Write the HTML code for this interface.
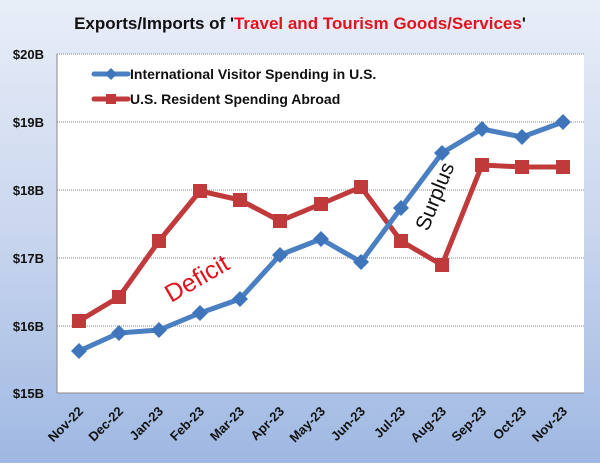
<!DOCTYPE html>
<html><head><style>
body{margin:0;width:600px;height:463px;overflow:hidden;font-family:"Liberation Sans",sans-serif;}
</style></head><body>
<svg width="600" height="463" xmlns="http://www.w3.org/2000/svg">
<defs>
<linearGradient id="bg" x1="0" y1="0" x2="0" y2="1">
<stop offset="0" stop-color="#e9eef8"/><stop offset="0.5" stop-color="#c9d6ee"/><stop offset="1" stop-color="#9fb8e2"/>
</linearGradient>
</defs>
<rect width="600" height="463" fill="url(#bg)"/>
<rect x="57" y="54" width="527" height="339" fill="#fff"/>
<g stroke="#888" stroke-width="1" stroke-dasharray="1,1">
<line x1="57" y1="54" x2="584" y2="54"/>
<line x1="57" y1="122" x2="584" y2="122"/>
<line x1="57" y1="190" x2="584" y2="190"/>
<line x1="57" y1="258" x2="584" y2="258"/>
<line x1="57" y1="326" x2="584" y2="326"/>
</g>
<line x1="57" y1="54" x2="57" y2="393" stroke="#888"/>
<line x1="57" y1="393" x2="584" y2="393" stroke="#888"/>
<text x="300" y="29" text-anchor="middle" font-size="17" font-weight="bold" fill="#111">Exports/Imports of '<tspan fill="#e0141e">Travel and Tourism Goods/Services</tspan>'</text>
<g font-size="13" font-weight="bold" fill="#111" text-anchor="end">
<text x="44" y="59">$20B</text><text x="44" y="127">$19B</text><text x="44" y="195">$18B</text>
<text x="44" y="263">$17B</text><text x="44" y="331">$16B</text><text x="44" y="398">$15B</text>
</g>
<g font-size="13" font-weight="bold" fill="#111" text-anchor="end">
<text transform="translate(84,412) rotate(-45)">Nov-22</text>
<text transform="translate(124,412) rotate(-45)">Dec-22</text>
<text transform="translate(164,412) rotate(-45)">Jan-23</text>
<text transform="translate(205,412) rotate(-45)">Feb-23</text>
<text transform="translate(245,412) rotate(-45)">Mar-23</text>
<text transform="translate(285,412) rotate(-45)">Apr-23</text>
<text transform="translate(326,412) rotate(-45)">May-23</text>
<text transform="translate(366,412) rotate(-45)">Jun-23</text>
<text transform="translate(406,412) rotate(-45)">Jul-23</text>
<text transform="translate(447,412) rotate(-45)">Aug-23</text>
<text transform="translate(487,412) rotate(-45)">Sep-23</text>
<text transform="translate(527,412) rotate(-45)">Oct-23</text>
<text transform="translate(568,412) rotate(-45)">Nov-23</text>
</g>
<polyline fill="none" stroke="#c0393b" stroke-width="5" stroke-linejoin="round" points="79,321 119,297 159,241 200,191 240,200 280,221 321,204 361,187 401,241 442,265 482,165 522,167 563,167"/>
<g fill="#c0393b">
<rect x="72" y="314" width="14" height="14"/><rect x="112" y="290" width="14" height="14"/><rect x="152" y="234" width="14" height="14"/><rect x="193" y="184" width="14" height="14"/><rect x="233" y="193" width="14" height="14"/><rect x="273" y="214" width="14" height="14"/><rect x="314" y="197" width="14" height="14"/><rect x="354" y="180" width="14" height="14"/><rect x="394" y="234" width="14" height="14"/><rect x="435" y="258" width="14" height="14"/><rect x="475" y="158" width="14" height="14"/><rect x="515" y="160" width="14" height="14"/><rect x="556" y="160" width="14" height="14"/>
</g>
<polyline fill="none" stroke="#4a7fc1" stroke-width="5" stroke-linejoin="round" points="79,351 119,333 159,330 200,313 240,299 280,255 321,239 361,262 401,208 442,153 482,129 522,137 563,122"/>
<g fill="#3f75bb">
<path d="M79,343l8,8l-8,8l-8,-8z"/><path d="M119,325l8,8l-8,8l-8,-8z"/><path d="M159,322l8,8l-8,8l-8,-8z"/><path d="M200,305l8,8l-8,8l-8,-8z"/><path d="M240,291l8,8l-8,8l-8,-8z"/><path d="M280,247l8,8l-8,8l-8,-8z"/><path d="M321,231l8,8l-8,8l-8,-8z"/><path d="M361,254l8,8l-8,8l-8,-8z"/><path d="M401,200l8,8l-8,8l-8,-8z"/><path d="M442,145l8,8l-8,8l-8,-8z"/><path d="M482,121l8,8l-8,8l-8,-8z"/><path d="M522,129l8,8l-8,8l-8,-8z"/><path d="M563,114l8,8l-8,8l-8,-8z"/>
</g>
<line x1="94" y1="74" x2="128" y2="74" stroke="#4a7fc1" stroke-width="5" stroke-linecap="round"/>
<path d="M111,68l6,6l-6,6l-6,-6z" fill="#3f75bb"/>
<line x1="94" y1="99" x2="128" y2="99" stroke="#c0393b" stroke-width="5" stroke-linecap="round"/>
<rect x="106" y="94" width="10" height="10" fill="#c0393b"/>
<text x="130" y="79" font-size="14" font-weight="bold" fill="#111">International Visitor Spending in U.S.</text>
<text x="130" y="104" font-size="14" font-weight="bold" fill="#111">U.S. Resident Spending Abroad</text>
<text transform="translate(171,303) rotate(-30)" font-size="25" fill="#e0141e">Deficit</text>
<text transform="translate(428,232) rotate(-68)" font-size="21" fill="#111">Surplus</text>
</svg>
</body></html>
